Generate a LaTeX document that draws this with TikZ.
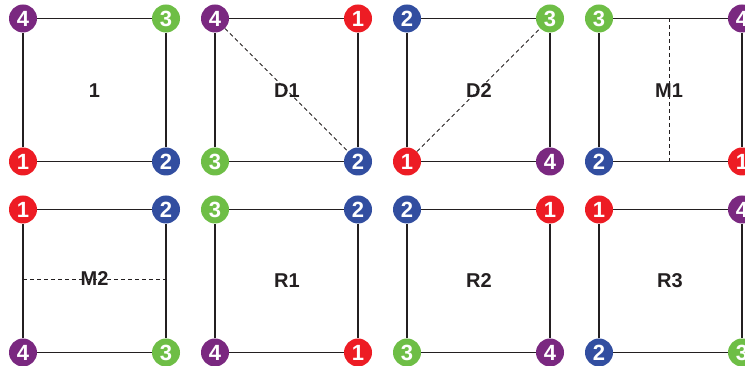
\documentclass[tikz,border=0pt]{standalone}
\usepackage{fontspec}
\setmainfont{Liberation Sans}
\definecolor{cred}{RGB}{237,28,36}
\definecolor{cblue}{RGB}{50,78,160}
\definecolor{cgreen}{RGB}{110,190,70}
\definecolor{cpur}{RGB}{122,40,128}
\definecolor{ink}{RGB}{35,31,32}
\begin{document}
\begin{tikzpicture}[x=1pt,y=1pt,
    vtx/.style={circle,fill=#1,inner sep=0pt,minimum size=28pt,text=white,font=\bfseries\fontsize{22}{22}\selectfont},
    side/.style={line width=1.9pt,draw=ink},
    cut/.style={line width=0.8pt,draw=ink,dash pattern=on 4pt off 3pt},
    lbl/.style={text=ink,font=\bfseries\fontsize{20}{20}\selectfont}]
  \useasboundingbox (0,0) rectangle (745,366);
  % square 1
  \node[vtx=cpur] (s1tl) at (23,347.5) {4};
  \node[vtx=cgreen] (s1tr) at (166,347.5) {3};
  \node[vtx=cred] (s1bl) at (23,204.5) {1};
  \node[vtx=cblue] (s1br) at (166,204.5) {2};
  \node[lbl] (s1) at (94.5,275) {1};
  \draw[side] (s1tl) -- (s1tr) -- (s1br) -- (s1bl) -- (s1tl);
  % square D1
  \node[vtx=cpur] (d1tl) at (215,347.5) {4};
  \node[vtx=cred] (d1tr) at (358,347.5) {1};
  \node[vtx=cgreen] (d1bl) at (215,204.5) {3};
  \node[vtx=cblue] (d1br) at (358,204.5) {2};
  \node[lbl] (d1) at (287,275) {D1};
  \draw[side] (d1tl) -- (d1tr) -- (d1br) -- (d1bl) -- (d1tl);
  \draw[cut] (d1tl) -- (d1br);
  % square D2
  \node[vtx=cblue] (d2tl) at (407,347.5) {2};
  \node[vtx=cgreen] (d2tr) at (550,347.5) {3};
  \node[vtx=cred] (d2bl) at (407,204.5) {1};
  \node[vtx=cpur] (d2br) at (550,204.5) {4};
  \node[lbl] (d2) at (479,275) {D2};
  \draw[side] (d2tl) -- (d2tr) -- (d2br) -- (d2bl) -- (d2tl);
  \draw[cut] (d2bl) -- (d2tr);
  % square M1
  \node[vtx=cgreen] (m1tl) at (599,347.5) {3};
  \node[vtx=cpur] (m1tr) at (742,347.5) {4};
  \node[vtx=cblue] (m1bl) at (599,204.5) {2};
  \node[vtx=cred] (m1br) at (742,204.5) {1};
  \coordinate (m1t) at (669.5,347.5);\coordinate (m1b) at (669.5,204.5);
  \draw[cut] (m1t) -- (m1b);
  \node[lbl] (m1) at (669,275) {M1};
  \draw[side] (m1tl) -- (m1tr) -- (m1br) -- (m1bl) -- (m1tl);
  % square M2
  \node[vtx=cred] (m2tl) at (23,156.5) {1};
  \node[vtx=cblue] (m2tr) at (166,156.5) {2};
  \node[vtx=cpur] (m2bl) at (23,13.5) {4};
  \node[vtx=cgreen] (m2br) at (166,13.5) {3};
  \coordinate (m2l) at (23,87);\coordinate (m2r) at (166,87);
  \draw[cut] (m2l) -- (m2r);
  \node[lbl] (m2) at (94.5,87) {M2};
  \draw[side] (m2tl) -- (m2tr) -- (m2br) -- (m2bl) -- (m2tl);
  % square R1
  \node[vtx=cgreen] (r1tl) at (215,156.5) {3};
  \node[vtx=cblue] (r1tr) at (358,156.5) {2};
  \node[vtx=cpur] (r1bl) at (215,13.5) {4};
  \node[vtx=cred] (r1br) at (358,13.5) {1};
  \node[lbl] (r1) at (287,85) {R1};
  \draw[side] (r1tl) -- (r1tr) -- (r1br) -- (r1bl) -- (r1tl);
  % square R2
  \node[vtx=cblue] (r2tl) at (407,156.5) {2};
  \node[vtx=cred] (r2tr) at (550,156.5) {1};
  \node[vtx=cgreen] (r2bl) at (407,13.5) {3};
  \node[vtx=cpur] (r2br) at (550,13.5) {4};
  \node[lbl] (r2) at (479,85) {R2};
  \draw[side] (r2tl) -- (r2tr) -- (r2br) -- (r2bl) -- (r2tl);
  % square R3
  \node[vtx=cred] (r3tl) at (599,156.5) {1};
  \node[vtx=cpur] (r3tr) at (742,156.5) {4};
  \node[vtx=cblue] (r3bl) at (599,13.5) {2};
  \node[vtx=cgreen] (r3br) at (742,13.5) {3};
  \node[lbl] (r3) at (670,85) {R3};
  \draw[side] (r3tl) -- (r3tr) -- (r3br) -- (r3bl) -- (r3tl);
\end{tikzpicture}
\end{document}
